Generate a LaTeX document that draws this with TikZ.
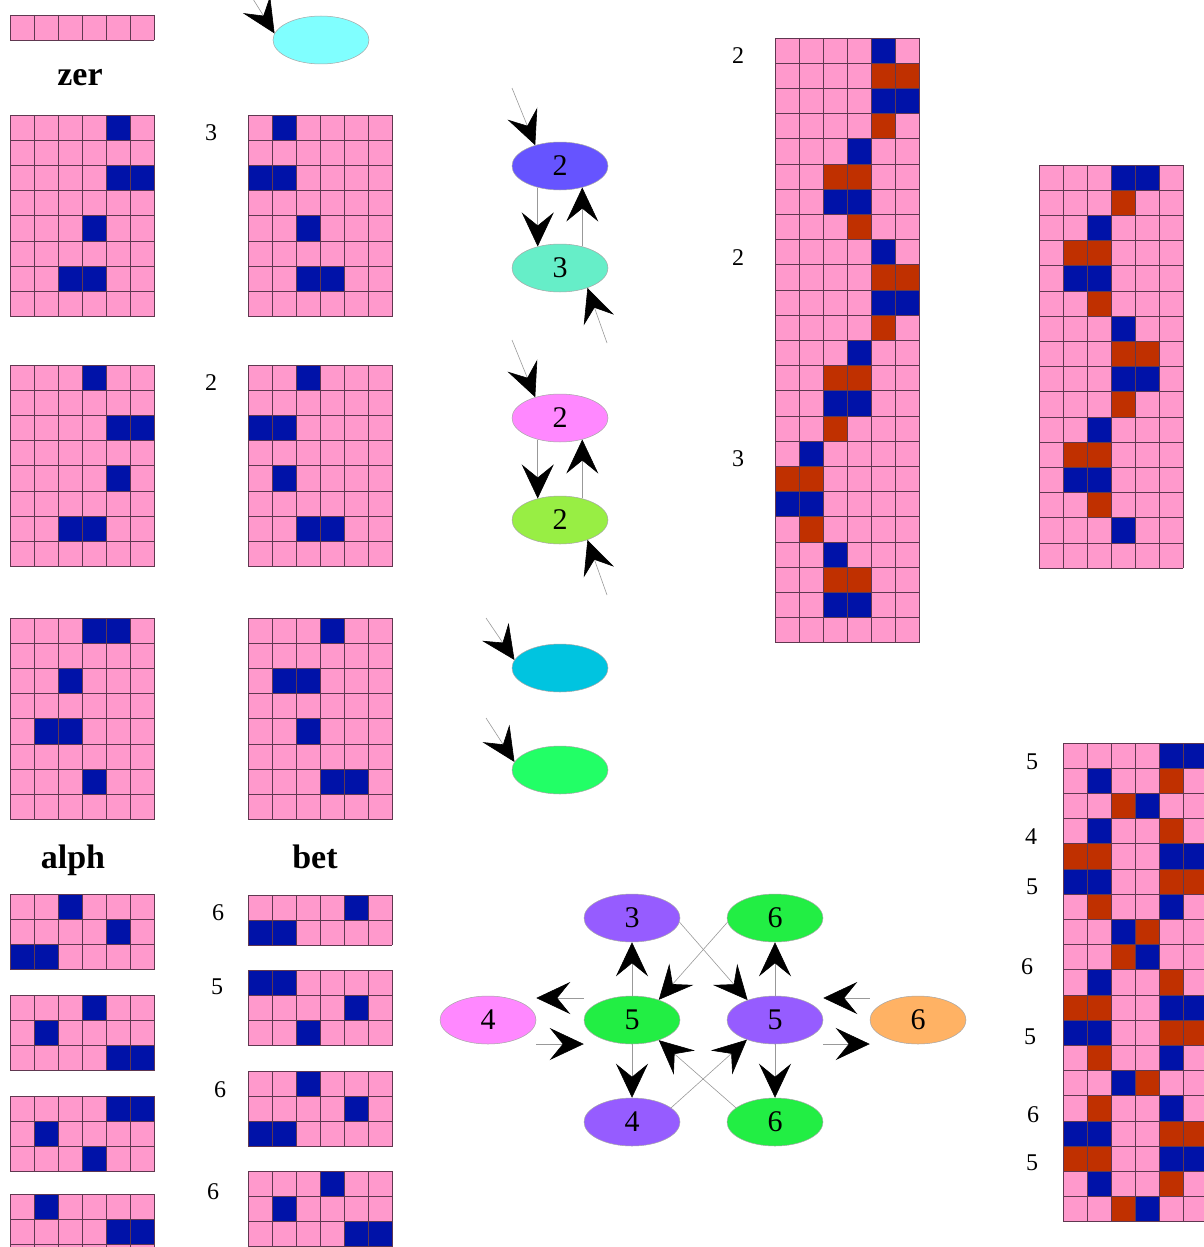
\documentclass[tikz,border=0pt]{standalone}
\usepackage{fontspec}
\setmainfont{Liberation Serif}
\usetikzlibrary{shapes.geometric, arrows.meta, positioning}

\definecolor{pinkbg}{RGB}{255,153,204}
\definecolor{wb}{RGB}{0,18,168}
\definecolor{wr}{RGB}{192,48,0}
\definecolor{gridc}{RGB}{96,56,80}
\definecolor{skyc}{RGB}{128,255,255}
\definecolor{violet}{RGB}{102,84,255}
\definecolor{aqua}{RGB}{102,238,200}
\definecolor{orchid}{RGB}{255,136,255}
\definecolor{lime}{RGB}{152,238,68}
\definecolor{cerulean}{RGB}{0,196,224}
\definecolor{spring}{RGB}{34,255,102}
\definecolor{lilac}{RGB}{150,92,255}
\definecolor{grass}{RGB}{34,238,68}
\definecolor{apricot}{RGB}{255,178,100}

\tikzstyle{cellline} = [draw=gridc, line width=0.8pt]
\tikzstyle{motif} = [
  ellipse,
  minimum width=96pt,
  minimum height=48pt,
  inner sep=0pt,
  draw=black!35,
  line width=0.5pt,
  font=\fontsize{30}{32}\selectfont
]
\tikzstyle{heading} = [font=\fontsize{34}{38}\selectfont\bfseries]
\tikzstyle{numlabel} = [font=\fontsize{24}{26}\selectfont]
\tikzstyle{arrow} = [-{Stealth[length=34pt, width=32pt, inset=13pt, black]}, draw=black!40, line width=0.6pt]

% one draft: origin, columns, rows, filled cells as col/row/colour
\newcommand{\drawdraft}[4]{%
  \begin{scope}[shift={#1}, x=24pt, y=-25.2pt]
    \fill[pinkbg] (0,0) rectangle (#2,#3);
    \foreach \c/\r/\k in {#4}
      \fill[\k] (\c,\r) rectangle ++(1,1);
    \foreach \i in {0,...,#2}
      \draw[cellline] (\i,0) -- (\i,#3);
    \foreach \j in {0,...,#3}
      \draw[cellline] (0,\j) -- (#2,\j);
  \end{scope}}

\begin{document}
\begin{tikzpicture}[x=1pt, y=-1pt, node distance=102pt]
  \useasboundingbox (0,0) rectangle (1204,1247);
  \clip (0,0) rectangle (1204,1247);

  % left column of drafts
  \begin{scope}[shift={(10,15)}, x=24pt, y=-25.2pt]
    \fill[pinkbg] (0,0) rectangle (6,1);
    \foreach \i in {0,...,6}
      \draw[cellline] (\i,0) -- (\i,1);
    \draw[cellline] (0,0) -- (6,0) (0,1) -- (6,1);
  \end{scope}
  \node (zer) [heading] at (80,78) {zer};
  \drawdraft{(10,115)}{6}{8}{4/0/wb, 4/2/wb, 5/2/wb, 3/4/wb, 2/6/wb, 3/6/wb}
  \drawdraft{(248,115)}{6}{8}{1/0/wb, 0/2/wb, 1/2/wb, 2/4/wb, 2/6/wb, 3/6/wb}
  \drawdraft{(10,365)}{6}{8}{3/0/wb, 4/2/wb, 5/2/wb, 4/4/wb, 2/6/wb, 3/6/wb}
  \drawdraft{(248,365)}{6}{8}{2/0/wb, 0/2/wb, 1/2/wb, 1/4/wb, 2/6/wb, 3/6/wb}
  \drawdraft{(10,618)}{6}{8}{3/0/wb, 4/0/wb, 2/2/wb, 1/4/wb, 2/4/wb, 3/6/wb}
  \drawdraft{(248,618)}{6}{8}{3/0/wb, 1/2/wb, 2/2/wb, 2/4/wb, 3/6/wb, 4/6/wb}
  \node (rep-a) [numlabel] at (211,133) {3};
  \node (rep-b) [numlabel] at (211,383) {2};

  \node (alph) [heading] at (73,860) {alph};
  \node (bet) [heading] at (315,857) {bet};
  \drawdraft{(10,894)}{6}{3}{2/0/wb, 4/1/wb, 0/2/wb, 1/2/wb}
  \drawdraft{(10,995)}{6}{3}{3/0/wb, 1/1/wb, 4/2/wb, 5/2/wb}
  \drawdraft{(10,1096)}{6}{3}{4/0/wb, 5/0/wb, 1/1/wb, 3/2/wb}
  \drawdraft{(10,1194)}{6}{3}{1/0/wb, 4/1/wb, 5/1/wb}
  \drawdraft{(248,895)}{6}{2}{4/0/wb, 0/1/wb, 1/1/wb}
  \drawdraft{(248,970)}{6}{3}{0/0/wb, 1/0/wb, 4/1/wb, 2/2/wb}
  \drawdraft{(248,1071)}{6}{3}{2/0/wb, 4/1/wb, 0/2/wb, 1/2/wb}
  \drawdraft{(248,1171)}{6}{3}{3/0/wb, 1/1/wb, 4/2/wb, 5/2/wb}
  \node (rep-c) [numlabel] at (218,913) {6};
  \node (rep-d) [numlabel] at (217,987) {5};
  \node (rep-e) [numlabel] at (220,1090) {6};
  \node (rep-f) [numlabel] at (213,1192) {6};

  % motif column
  \node (ring) [motif, fill=skyc] at (321,40) {};
  \coordinate (in-ring) at (253,-1);
  \draw [arrow] (in-ring) -- (ring.172);

  \node (e1) [motif, fill=violet] at (560,166) {2};
  \node (e2) [motif, fill=aqua, below of=e1] {3};
  \node (e3) [motif, fill=orchid, below of=e2, yshift=-48pt] {2};
  \node (e4) [motif, fill=lime, below of=e3] {2};
  \node (e5) [motif, fill=cerulean, below of=e4, yshift=-46pt] {};
  \node (e6) [motif, fill=spring, below of=e5] {};

  \draw [arrow] (e1.224) -- (e2.136);
  \draw [arrow] (e2.44) -- (e1.316);
  \draw [arrow] (e3.224) -- (e4.136);
  \draw [arrow] (e4.44) -- (e3.316);

  \coordinate (in-e1) at (512,88);
  \coordinate (in-e2) at (607,343);
  \coordinate (in-e3) at (512,340);
  \coordinate (in-e4) at (607,595);
  \coordinate (in-e5) at (486,618);
  \coordinate (in-e6) at (486,718);
  \draw [arrow] (in-e1) -- (e1.140);
  \draw [arrow] (in-e2) -- (e2.324);
  \draw [arrow] (in-e3) -- (e3.140);
  \draw [arrow] (in-e4) -- (e4.324);
  \draw [arrow] (in-e5) -- (e5.170);
  \draw [arrow] (in-e6) -- (e6.170);

  % long drafts
  \drawdraft{(775,38)}{6}{24}{4/0/wb, 4/1/wr, 5/1/wr, 4/2/wb, 5/2/wb, 4/3/wr,
    3/4/wb, 2/5/wr, 3/5/wr, 2/6/wb, 3/6/wb, 3/7/wr,
    4/8/wb, 4/9/wr, 5/9/wr, 4/10/wb, 5/10/wb, 4/11/wr,
    3/12/wb, 2/13/wr, 3/13/wr, 2/14/wb, 3/14/wb, 2/15/wr,
    1/16/wb, 0/17/wr, 1/17/wr, 0/18/wb, 1/18/wb, 1/19/wr,
    2/20/wb, 2/21/wr, 3/21/wr, 2/22/wb, 3/22/wb}
  \node (rep-g) [numlabel] at (738,56) {2};
  \node (rep-h) [numlabel] at (738,258) {2};
  \node (rep-i) [numlabel] at (738,459) {3};

  \drawdraft{(1039,165)}{6}{16}{3/0/wb, 4/0/wb, 3/1/wr, 2/2/wb, 1/3/wr, 2/3/wr,
    1/4/wb, 2/4/wb, 2/5/wr, 3/6/wb, 3/7/wr, 4/7/wr,
    3/8/wb, 4/8/wb, 3/9/wr, 2/10/wb, 1/11/wr, 2/11/wr,
    1/12/wb, 2/12/wb, 2/13/wr, 3/14/wb}

  \drawdraft{(1063,743)}{6}{19}{4/0/wb, 5/0/wb, 1/1/wb, 4/1/wr, 2/2/wr, 3/2/wb,
    1/3/wb, 4/3/wr, 0/4/wr, 1/4/wr, 4/4/wb, 5/4/wb,
    0/5/wb, 1/5/wb, 4/5/wr, 5/5/wr, 1/6/wr, 4/6/wb,
    2/7/wb, 3/7/wr, 2/8/wr, 3/8/wb, 1/9/wb, 4/9/wr,
    0/10/wr, 1/10/wr, 4/10/wb, 5/10/wb, 0/11/wb, 1/11/wb, 4/11/wr, 5/11/wr,
    1/12/wr, 4/12/wb, 2/13/wb, 3/13/wr, 1/14/wr, 4/14/wb,
    0/15/wb, 1/15/wb, 4/15/wr, 5/15/wr, 0/16/wr, 1/16/wr, 4/16/wb, 5/16/wb,
    1/17/wb, 4/17/wr, 2/18/wr, 3/18/wb}
  \node (rep-j) [numlabel] at (1032,762) {5};
  \node (rep-k) [numlabel] at (1031,837) {4};
  \node (rep-l) [numlabel] at (1032,887) {5};
  \node (rep-m) [numlabel] at (1027,967) {6};
  \node (rep-n) [numlabel] at (1030,1037) {5};
  \node (rep-o) [numlabel] at (1033,1115) {6};
  \node (rep-p) [numlabel] at (1032,1163) {5};

  % neighbour graph
  \node (g5) [motif, fill=grass] at (632,1020) {5};
  \node (p3) [motif, fill=lilac, above of=g5] {3};
  \node (p4) [motif, fill=lilac, below of=g5] {4};
  \node (m4) [motif, fill=orchid, left of=g5, xshift=-42pt] {4};
  \node (q5) [motif, fill=lilac, right of=g5, xshift=41pt] {5};
  \node (h6) [motif, fill=grass, above of=q5] {6};
  \node (h6b) [motif, fill=grass, below of=q5] {6};
  \node (o6) [motif, fill=apricot, right of=q5, xshift=41pt] {6};

  \draw [arrow] (g5) -- (p3);
  \draw [arrow] (g5) -- (p4);
  \draw [arrow] (q5) -- (h6);
  \draw [arrow] (q5) -- (h6b);
  \draw [arrow] (h6.185) -- (g5.37);
  \draw [arrow] (p3.355) -- (q5.144);
  \draw [arrow] (p4.20) -- (q5.215);
  \draw [arrow] (h6b.160) -- (g5.323);
  \draw [arrow] ([yshift=22pt]g5.west) -- ([yshift=22pt]m4.east);
  \draw [arrow] ([yshift=-24pt]m4.east) -- ([yshift=-24pt]g5.west);
  \draw [arrow] ([yshift=22pt]o6.west) -- ([yshift=22pt]q5.east);
  \draw [arrow] ([yshift=-24pt]q5.east) -- ([yshift=-24pt]o6.west);
\end{tikzpicture}
\end{document}
